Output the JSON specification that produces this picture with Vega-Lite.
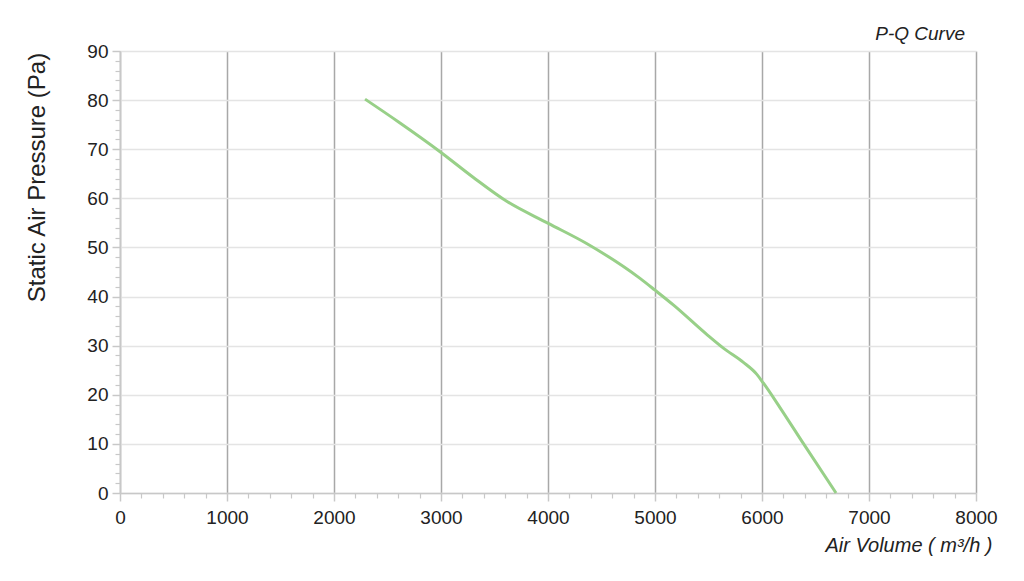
{
  "$schema": "https://vega.github.io/schema/vega-lite/v6.json",
  "width": 856,
  "height": 442,
  "autosize": "none",
  "padding": {"left": 120, "top": 51, "right": 48, "bottom": 88},
  "background": "white",
  "config": {
    "font": "Liberation Sans",
    "view": {"stroke": null}
  },
  "title": {
    "text": "P-Q Curve",
    "anchor": "end",
    "frame": "group",
    "dx": -11,
    "offset": -2,
    "fontSize": 19,
    "fontStyle": "italic",
    "fontWeight": "normal",
    "color": "#222222"
  },
  "data": {
    "values": [
      {"q": 2290, "p": 80.2},
      {"q": 2600, "p": 75.6},
      {"q": 2991, "p": 69.5},
      {"q": 3300, "p": 64.3},
      {"q": 3614, "p": 59.4},
      {"q": 4003, "p": 54.9},
      {"q": 4361, "p": 50.8},
      {"q": 4860, "p": 43.7},
      {"q": 5000, "p": 41.3},
      {"q": 5171, "p": 38.3},
      {"q": 5483, "p": 32.3},
      {"q": 5639, "p": 29.5},
      {"q": 5826, "p": 26.6},
      {"q": 5950, "p": 24.2},
      {"q": 6012, "p": 22.4},
      {"q": 6168, "p": 17.4},
      {"q": 6386, "p": 10.1},
      {"q": 6692, "p": 0}
    ]
  },
  "resolve": {"axis": {"x": "independent", "y": "independent"}},
  "layer": [
    {
      "mark": {"type": "line", "color": "#98d088", "strokeWidth": 3, "interpolate": "monotone"},
      "encoding": {
        "x": {
          "field": "q", "type": "quantitative",
          "scale": {"domain": [0, 8000], "nice": false},
          "axis": {
            "orient": "bottom",
            "values": [0, 1000, 2000, 3000, 4000, 5000, 6000, 7000, 8000],
            "format": "d",
            "labelFlush": false,
            "grid": true, "gridColor": "#a8a8a8", "gridWidth": 1.5,
            "domainColor": "#c8c8c8", "domainWidth": 1.5,
            "tickColor": "#c8c8c8", "tickSize": 8, "tickWidth": 1.5,
            "labelFontSize": 19, "labelColor": "#222222", "labelPadding": 7,
            "title": "Air Volume ( m³/h )",
            "titleFontSize": 20, "titleFontStyle": "italic", "titleFontWeight": "normal",
            "titleColor": "#222222",
            "titleAlign": "right", "titleAnchor": "end",
            "titleX": 872, "titleY": 58, "titleBaseline": "alphabetic"
          }
        },
        "y": {
          "field": "p", "type": "quantitative",
          "scale": {"domain": [0, 90], "nice": false},
          "axis": {
            "orient": "left",
            "values": [0, 10, 20, 30, 40, 50, 60, 70, 80, 90],
            "labelFlush": false,
            "grid": true, "gridColor": "#e4e4e4", "gridWidth": 1.5,
            "domainColor": "#c8c8c8", "domainWidth": 1.5,
            "tickColor": "#c8c8c8", "tickSize": 8, "tickWidth": 1.5,
            "labelFontSize": 19, "labelColor": "#222222", "labelPadding": 4,
            "title": "Static Air Pressure  (Pa)",
            "titleFontSize": 24, "titleFontWeight": "normal", "titleColor": "#222222",
            "titleAngle": -90, "titleAlign": "center", "titleBaseline": "middle",
            "titleX": -83, "titleY": 126
          }
        }
      }
    },
    {
      "mark": {"type": "line", "opacity": 0},
      "encoding": {
        "x": {
          "field": "q", "type": "quantitative",
          "axis": {
            "orient": "bottom",
            "values": [200, 400, 600, 800, 1200, 1400, 1600, 1800, 2200, 2400, 2600, 2800, 3200, 3400, 3600, 3800, 4200, 4400, 4600, 4800, 5200, 5400, 5600, 5800, 6200, 6400, 6600, 6800, 7200, 7400, 7600, 7800],
            "labels": false, "grid": false, "domain": false, "title": null,
            "tickColor": "#c8c8c8", "tickSize": 5, "tickWidth": 1.2
          }
        },
        "y": {
          "field": "p", "type": "quantitative",
          "axis": {
            "orient": "left",
            "values": [2, 4, 6, 8, 12, 14, 16, 18, 22, 24, 26, 28, 32, 34, 36, 38, 42, 44, 46, 48, 52, 54, 56, 58, 62, 64, 66, 68, 72, 74, 76, 78, 82, 84, 86, 88],
            "labels": false, "grid": false, "domain": false, "title": null,
            "tickColor": "#c8c8c8", "tickSize": 5, "tickWidth": 1.2
          }
        }
      }
    }
  ]
}
